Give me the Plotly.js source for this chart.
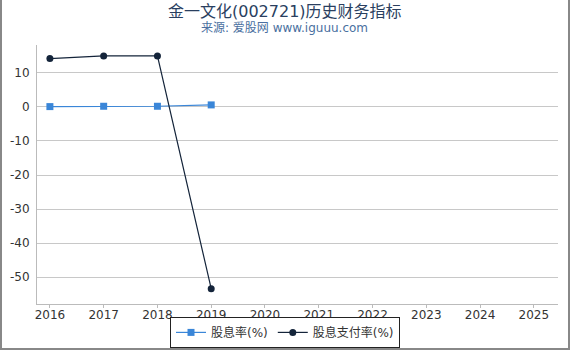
<!DOCTYPE html>
<html>
<head>
<meta charset="utf-8">
<script src="https://cdn.plot.ly/plotly-3.0.1.min.js"></script>
<style>
  html, body { margin: 0; padding: 0; background: #fff; }
  #wrap { position: relative; width: 570px; height: 350px; overflow: hidden; }
  #chart { width: 570px; height: 350px; }
  #frame { position: absolute; left: 0; top: 0; width: 566px; height: 348px;
           border: 2px solid #888; border-top: 0; pointer-events: none; }
</style>
</head>
<body>
<div id="wrap"><div id="chart"></div><div id="frame"></div></div>
<script>
// 金一文化(002721) 历年股息指标
const years = [2016, 2017, 2018, 2019];
const dividendYield = [0.1, 0.2, 0.2, 0.6];        // 股息率(%)
const payoutRatio = [14.2, 15.0, 15.0, -53.4];     // 股息支付率(%)
const xTicks = [2016, 2017, 2018, 2019, 2020, 2021, 2022, 2023, 2024, 2025];
const yTicks = [10, 0, -10, -20, -30, -40, -50];

const font = "DejaVu Sans, 'Noto Sans CJK SC', sans-serif";

const traces = [
  {
    x: years, y: dividendYield, name: '股息率(%)',
    type: 'scatter', mode: 'lines+markers',
    line: { color: '#3a86d8', width: 1.2 },
    marker: { symbol: 'square', size: 7, color: '#3a86d8' }
  },
  {
    x: years, y: payoutRatio, name: '股息支付率(%)',
    type: 'scatter', mode: 'lines+markers',
    line: { color: '#14243a', width: 1.2 },
    marker: { symbol: 'circle', size: 7, color: '#14243a' }
  }
];

const layout = {
  width: 570, height: 350,
  margin: { l: 37, r: 12, t: 45, b: 46, autoexpand: false },
  paper_bgcolor: '#fff', plot_bgcolor: '#fff',
  font: { family: font, size: 12, color: '#333' },
  annotations: [
    {
      text: '金一文化(002721)历史财务指标', xref: 'paper', yref: 'paper',
      x: 0.476, y: 1, xanchor: 'center', yanchor: 'middle', yshift: 34, showarrow: false,
      font: { family: font, size: 16, color: '#2a3f5f' }
    },
    {
      text: '来源: 爱股网 www.iguuu.com', xref: 'paper', yref: 'paper',
      x: 0.476, y: 1, xanchor: 'center', yanchor: 'middle', yshift: 17, showarrow: false,
      font: { family: font, size: 12, color: '#4a6fa0' }
    }
  ],
  xaxis: {
    range: [2015.76, 2025.45],
    tickvals: xTicks, ticktext: xTicks.map(String),
    showgrid: false, zeroline: false,
    showline: true, linecolor: '#bbb', linewidth: 1,
    ticks: 'outside', ticklen: 3, tickcolor: '#bbb',
    ticklabelstandoff: -3,
    tickfont: { size: 12, color: '#333' }
  },
  yaxis: {
    range: [-57.9, 18.2],
    tickvals: yTicks, ticktext: yTicks.map(String),
    showgrid: true, gridcolor: '#c8c8c8', gridwidth: 1,
    zeroline: false,
    showline: true, linecolor: '#bbb', linewidth: 1,
    ticks: '', ticklabelstandoff: 4,
    tickfont: { size: 12, color: '#333' }
  },
  showlegend: true,
  legend: {
    orientation: 'h', xref: 'container', x: 0.5, xanchor: 'center',
    yref: 'container', y: 0.006, yanchor: 'bottom',
    bordercolor: '#222', borderwidth: 1, bgcolor: '#fff',
    font: { size: 12, color: '#333' }, itemwidth: 30
  }
};

Plotly.newPlot('chart', traces, layout, { displayModeBar: false, staticPlot: true });
</script>
</body>
</html>
